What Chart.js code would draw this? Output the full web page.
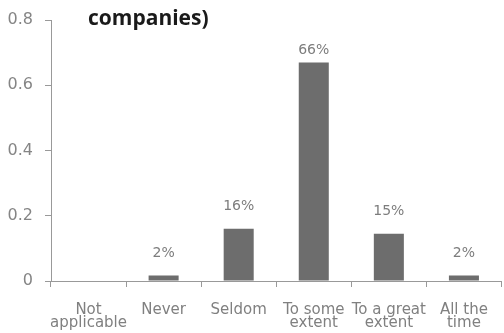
<!DOCTYPE html>
<html>
<head>
<meta charset="utf-8">
<script src="https://cdn.jsdelivr.net/npm/chart.js@4"></script>
<style>
  body { margin: 0; background: #fff; }
</style>
</head>
<body>
<canvas id="myBarChart" width="504" height="333"></canvas>
<script>
// Data
const categories = [
  ["Not", "applicable"],
  "Never",
  "Seldom",
  ["To some", "extent"],
  ["To a great", "extent"],
  ["All the", "time"],
];
const shares = [0, 0.017, 0.16, 0.67, 0.145, 0.017];
const shareLabels = ["", "2%", "16%", "66%", "15%", "2%"];
const titleLine = "companies)";

// value labels above bars + the (cut off) title
const barLabels = {
  id: "barLabels",
  afterDatasetsDraw(chart) {
    const ctx = chart.ctx;
    const bars = chart.getDatasetMeta(0).data;
    ctx.save();
    ctx.font = "14px 'DejaVu Sans'";
    ctx.fillStyle = "#7d7d7d";
    ctx.textAlign = "center";
    ctx.textBaseline = "middle";
    bars.forEach((bar, i) => {
      if (!shareLabels[i]) return;
      const y = Math.max(bar.y - 22, chart.chartArea.top + 30);
      ctx.fillText(shareLabels[i], bar.x, y);
    });
    ctx.font = "bold 21px 'Open Sans'";
    ctx.fillStyle = "#1a1a1a";
    ctx.textAlign = "left";
    ctx.textBaseline = "alphabetic";
    ctx.fillText(titleLine, 88, 25);
    ctx.restore();
  },
};

const barChart = document.getElementById("myBarChart").getContext("2d");
const myBarChart = new Chart(barChart, {
  type: "bar",
  data: {
    labels: categories,
    datasets: [
      {
        data: shares,
        backgroundColor: "#6d6d6d",
        barPercentage: 0.4,
        categoryPercentage: 1,
      },
    ],
  },
  options: {
    responsive: false,
    animation: false,
    layout: {
      padding: { top: 18, right: 1, left: 0, bottom: 0 },
    },
    scales: {
      y: {
        min: 0,
        max: 0.8,
        afterFit: (s) => { s.width = 51; },
        ticks: {
          stepSize: 0.2,
          color: "#858585",
          padding: 12,
          font: { family: "DejaVu Sans", size: 16, lineHeight: 1 },
          callback: (v) => (v === 0 ? "0" : v.toFixed(1)),
        },
        grid: {
          drawOnChartArea: false,
          tickLength: 6,
          color: "#999",
        },
        border: { color: "#999", width: 1 },
      },
      x: {
        afterFit: (s) => { s.height = 52; },
        ticks: {
          color: "#808080",
          padding: 16,
          maxRotation: 0,
          autoSkip: false,
          font: { family: "DejaVu Sans", size: 15, lineHeight: 0.9 },
        },
        grid: {
          offset: true,
          drawOnChartArea: false,
          tickLength: 6,
          color: "#999",
        },
        border: { color: "#999", width: 1 },
      },
    },
    plugins: {
      legend: { display: false },
      tooltip: { enabled: false },
    },
  },
  plugins: [barLabels],
});
</script>
</body>
</html>
